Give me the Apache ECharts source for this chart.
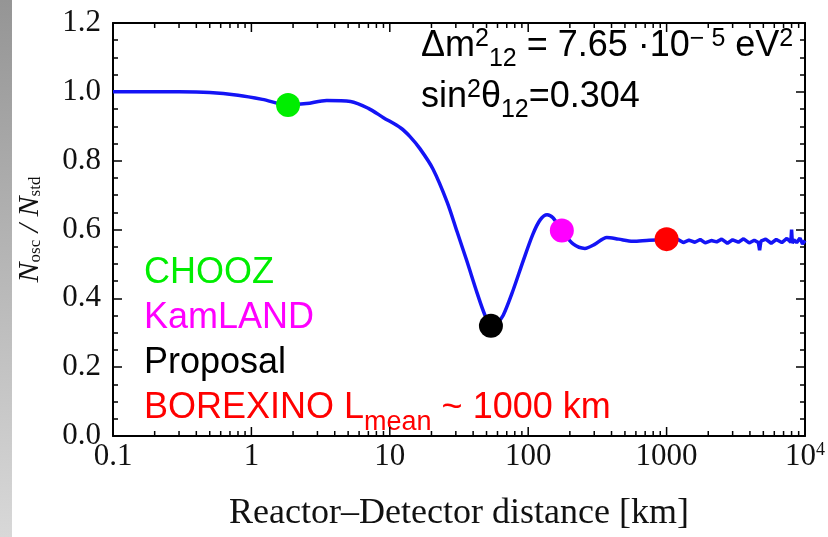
<!DOCTYPE html>
<html>
<head>
<meta charset="utf-8">
<script src="https://cdn.jsdelivr.net/npm/echarts@6/dist/echarts.min.js"></script>
<style>
html, body { margin: 0; padding: 0; background: #fff; }
#chart { width: 828px; height: 537px; }
</style>
</head>
<body>
<div id="chart"></div>
<script>
// survival curve (distance in km, N_osc/N_std)
const distKm = [0.1, 0.2, 0.3, 0.5, 0.8, 1.2, 1.84, 2.5, 3.5, 5.2, 7, 9, 12, 14, 16.5, 20.5, 26, 30.6, 36, 42.7, 48.7, 53.8, 60, 66, 78, 92, 108, 122, 137, 151, 175, 211, 257, 300, 370, 450, 570, 750, 1000];
const ratio = [1.0, 1.0, 1.0, 0.998, 0.99, 0.978, 0.962, 0.966, 0.975, 0.972, 0.952, 0.925, 0.895, 0.87, 0.835, 0.776, 0.679, 0.594, 0.509, 0.416, 0.351, 0.32, 0.33, 0.351, 0.425, 0.509, 0.586, 0.628, 0.643, 0.634, 0.597, 0.558, 0.545, 0.556, 0.577, 0.572, 0.566, 0.569, 0.57];
// noisy tail beyond 1000 km
const tailKm = [1000, 1100, 1200, 1320, 1450, 1600, 1750, 1900, 2100, 2300, 2500, 2750, 3000, 3300, 3600, 3950, 4300, 4600, 4700, 4800, 5200, 5700, 6200, 6800, 7400, 7900, 8000, 8100, 8300, 8700, 9200, 9600, 10000];
const tailRatio = [0.570, 0.566, 0.572, 0.562, 0.569, 0.563, 0.571, 0.561, 0.568, 0.564, 0.572, 0.560, 0.570, 0.563, 0.573, 0.561, 0.569, 0.562, 0.540, 0.566, 0.572, 0.560, 0.571, 0.562, 0.574, 0.563, 0.600, 0.560, 0.570, 0.562, 0.575, 0.558, 0.568];

const markerNames = ["CHOOZ", "KamLAND", "Proposal", "BOREXINO"];
const markerKm = [1.84, 175, 53.8, 1000];
const markerRatio = [0.962, 0.597, 0.32, 0.572];

const xTickLabels = ["0.1", "1", "10", "100", "1000", "10^4"];
const yTickLabels = ["0.0", "0.2", "0.4", "0.6", "0.8", "1.0", "1.2"];

const markerColors = ["#00ee00", "#ff00ff", "#000000", "#ff0000"];
const serif = "Liberation Serif";
const sans = "Liberation Sans";

// ticks of the log axis: 1..9 in every decade (k = 1 is a major tick)
let xTicks = [];
for (let e = -1; e < 4; e++) {
	for (let k = 1; k <= 9; k++) xTicks.push([k * Math.pow(10, e), k === 1 ? 1 : 0]);
}
xTicks.push([10000, 1]);

function xLabel(v) {
	let i = Math.round(Math.log10(v)) + 1;
	let t = xTickLabels[i];
	if (t === "10^4") return "{a|10}{p|4}";
	return "{a|" + t + "}";
}

let dom = document.getElementById("chart");
let myChart = echarts.init(dom, null, { renderer: "canvas" });

let tickStyle = { color: "#000", width: 1.5 };
let lineStyleAxis = { color: "#000", width: 2 };

let option = {
	animation: false,
	grid: { left: 113, right: 23, top: 23, bottom: 90 },
	xAxis: [
		{
			type: "log",
			logBase: 10,
			min: 0.1,
			max: 10000,
			splitNumber: 5,
			axisLine: { show: true, onZero: false, lineStyle: lineStyleAxis },
			axisTick: { show: false }, // ticks are drawn by the custom series
			splitLine: { show: false },
			axisLabel: {
				margin: 5,
				formatter: xLabel,
				rich: {
					a: { fontFamily: serif, fontSize: 31, color: "#111" },
					p: { fontFamily: serif, fontSize: 18, color: "#111", verticalAlign: "top", padding: [0, 0, 14, 0] },
				},
			},
			name: "Reactor\u2013Detector distance [km]",
			nameLocation: "middle",
			nameGap: 60,
			nameTextStyle: { fontFamily: serif, fontSize: 36, color: "#111" },
		},
		{
			type: "log",
			logBase: 10,
			min: 0.1,
			max: 10000,
			position: "top",
			axisLine: { show: true, onZero: false, lineStyle: lineStyleAxis },
			axisTick: { show: false },
			splitLine: { show: false },
			axisLabel: { show: false },
		},
	],
	yAxis: [
		{
			type: "value",
			min: 0,
			max: 1.2,
			interval: 0.2,
			axisLine: { show: true, onZero: false, lineStyle: lineStyleAxis },
			axisTick: { show: true, inside: true, length: 9, lineStyle: tickStyle },
			minorTick: { show: true, splitNumber: 4, length: 5, lineStyle: tickStyle },
			splitLine: { show: false },
			axisLabel: {
				margin: 12,
				fontFamily: serif,
				fontSize: 31,
				color: "#111",
				formatter: function (v) {
					return yTickLabels[Math.round(v / 0.2)];
				},
			},
			name: "{i|N}{s|osc}{i| / N}{s|std}",
			nameLocation: "middle",
			nameGap: 68,
			nameTextStyle: {
				rich: {
					i: { fontFamily: serif, fontStyle: "italic", fontSize: 30, color: "#111" },
					s: { fontFamily: serif, fontSize: 17, color: "#111", padding: [12, 0, 0, 0] },
				},
			},
		},
		{
			type: "value",
			min: 0,
			max: 1.2,
			interval: 0.2,
			position: "right",
			axisLine: { show: true, onZero: false, lineStyle: lineStyleAxis },
			axisTick: { show: true, inside: true, length: 9, lineStyle: tickStyle },
			minorTick: { show: true, splitNumber: 4, length: 5, lineStyle: tickStyle },
			splitLine: { show: false },
			axisLabel: { show: false },
		},
	],
	series: [
		{
			// log-axis ticks (bottom and top), placed through the axis scale
			type: "custom",
			silent: true,
			clip: false,
			data: xTicks,
			encode: { x: 0, y: 1 },
			z: 10,
			renderItem: function (params, api) {
				let len = api.value(1) ? 9 : 5;
				let b = api.coord([api.value(0), 0]);
				let t = api.coord([api.value(0), 1.2]);
				let st = { stroke: "#000", lineWidth: 1.5 };
				return {
					type: "group",
					children: [
						{ type: "line", shape: { x1: b[0], y1: b[1], x2: b[0], y2: b[1] - len }, style: st },
						{ type: "line", shape: { x1: t[0], y1: t[1], x2: t[0], y2: t[1] + len }, style: st },
					],
				};
			},
		},
		{
			type: "line",
			data: distKm.map((d, i) => [d, ratio[i]]),
			smooth: 0.3,
			showSymbol: false,
			lineStyle: { color: "#1414f5", width: 3.5 },
			z: 3,
		},
		{
			type: "line",
			data: tailKm.map((d, i) => [d, tailRatio[i]]),
			showSymbol: false,
			lineStyle: { color: "#1414f5", width: 3.5 },
			z: 3,
		},
	].concat(
		markerNames.map((n, i) => ({
			type: "scatter",
			name: n,
			data: [[markerKm[i], markerRatio[i]]],
			symbolSize: 24,
			itemStyle: { color: markerColors[i], opacity: 1 },
			z: 5,
		}))
	),
	graphic: [
		{
			type: "rect",
			shape: { x: 0, y: 0, width: 12, height: 537 },
			style: {
				fill: new echarts.graphic.LinearGradient(0, 0, 0, 1, [
					{ offset: 0, color: "#959595" },
					{ offset: 1, color: "#d8d8d8" },
				]),
			},
			silent: true,
		},
		{
			type: "text",
			left: 421,
			top: 20,
			style: {
				text: "\u0394m{sup|2}{sub|12} = 7.65 \u00b710{sup|\u2212 5} eV{sup|2}",
				fontFamily: sans,
				fontSize: 36,
				lineHeight: 52,
				fill: "#000",
				rich: {
					sup: { fontFamily: sans, fontSize: 25, lineHeight: 25, verticalAlign: "top", padding: [7, 0, 0, 0] },
					sub: { fontFamily: sans, fontSize: 25, lineHeight: 25, verticalAlign: "bottom" },
				},
			},
		},
		{
			type: "text",
			left: 421,
			top: 71,
			style: {
				text: "sin{sup|2}\u03b8{sub|12}=0.304",
				fontFamily: sans,
				fontSize: 36,
				lineHeight: 52,
				fill: "#000",
				rich: {
					sup: { fontFamily: sans, fontSize: 25, lineHeight: 25, verticalAlign: "top", padding: [7, 0, 0, 0] },
					sub: { fontFamily: sans, fontSize: 25, lineHeight: 25, verticalAlign: "bottom" },
				},
			},
		},
		{ type: "text", left: 144, top: 255, style: { text: "CHOOZ", fontFamily: sans, fontSize: 36, fill: "#00ee00" } },
		{ type: "text", left: 144, top: 300, style: { text: "KamLAND", fontFamily: sans, fontSize: 36, fill: "#ff00ff" } },
		{ type: "text", left: 144, top: 345, style: { text: "Proposal", fontFamily: sans, fontSize: 36, fill: "#000" } },
		{
			type: "text",
			left: 144,
			top: 380,
			style: {
				text: "BOREXINO L{sub|mean} ~ 1000 km",
				fontFamily: sans,
				fontSize: 36,
				lineHeight: 56,
				fill: "#ff0000",
				rich: {
					sub: { fontFamily: sans, fontSize: 27, lineHeight: 27, verticalAlign: "bottom", fill: "#ff0000" },
				},
			},
		},
	],
};

myChart.setOption(option);
window.addEventListener("resize", myChart.resize);
</script>
</body>
</html>
